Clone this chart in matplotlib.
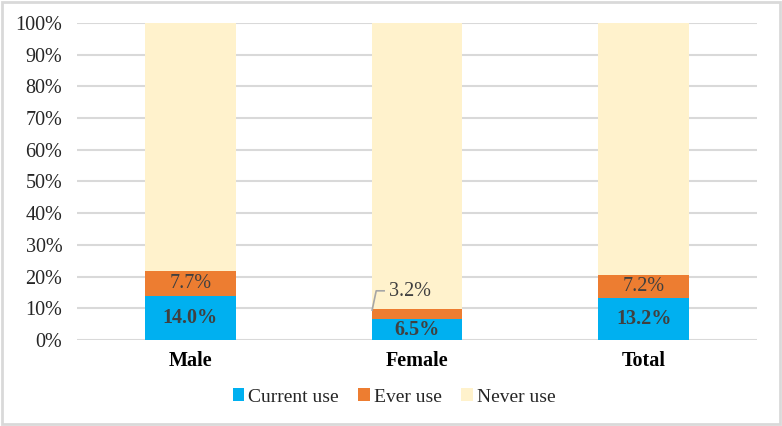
import numpy as np
import matplotlib.pyplot as plt
from matplotlib.patches import Rectangle

# data (percent)
groups = ['Male', 'Female', 'Total']
current_use = [14.0, 6.5, 13.2]
ever_use = [7.7, 3.2, 7.2]
never_use = [100 - c - e for c, e in zip(current_use, ever_use)]
series_names = ['Current use', 'Ever use', 'Never use']
colors = ['#00B0F0', '#ED7D31', '#FFF2CC']

plt.rcParams['font.family'] = ['Liberation Serif', 'DejaVu Serif']

fig = plt.figure(figsize=(7.82, 4.26), dpi=100)
ax = fig.add_axes([0.0985, 0.202, 0.8695, 0.744])

x = np.arange(len(groups))
w = 0.4
bottom = np.zeros(len(groups))
for vals, col, name in zip([current_use, ever_use, never_use], colors, series_names):
    ax.bar(x, vals, w, bottom=bottom, color=col, label=name, zorder=2)
    bottom += np.array(vals)

txt = '#404040'
fs = 14.5
# value labels
for i in range(len(groups)):
    ax.text(x[i], current_use[i] / 2, f'{current_use[i]:.1f}%', ha='center', va='center',
            fontsize=fs, fontweight='bold', color=txt, zorder=3)
    if ever_use[i] >= 5:
        ax.text(x[i], current_use[i] + ever_use[i] / 2, f'{ever_use[i]:.1f}%', ha='center',
                va='center', fontsize=fs, color=txt, zorder=3)
    else:
        # small slice: label placed above with a leader line
        top = current_use[i] + ever_use[i]
        ax.plot([x[i] - w / 2 + 0.002, x[i] - w / 2 + 0.02, x[i] - w / 2 + 0.055],
                [top - 0.3, top + 5.8, top + 5.8], color='#A6A6A6', lw=1.2, zorder=3)
        ax.text(x[i] - 0.03, top + 5.6, f'{ever_use[i]:.1f}%', ha='center', va='center',
                fontsize=fs, color=txt, zorder=3)

ax.set_xlim(-0.5, 2.5)
ax.set_ylim(0, 100)
ax.set_yticks(np.arange(0, 101, 10))
ax.set_yticklabels([f'{v}%' for v in range(0, 101, 10)], fontsize=fs, color='#262626')
ax.set_xticks(x)
ax.set_xticklabels(groups, fontsize=fs, fontweight='bold', color='black')
ax.tick_params(length=0, axis='y', pad=10.5)
ax.tick_params(length=0, axis='x', pad=8)
ax.yaxis.grid(True, color='#D9D9D9', lw=1.5, zorder=0)
ax.set_axisbelow(True)
for s in ax.spines.values():
    s.set_visible(False)

ax.legend(loc='center', bbox_to_anchor=(0.466, -0.18), ncol=3, frameon=False,
          fontsize=14, handlelength=0.6, handleheight=0.6, handletextpad=0.2,
          columnspacing=1.0, labelcolor='#262626')

# light grey frame around the whole figure
fig.patches.append(Rectangle((0.002, 0.004), 0.996, 0.992, transform=fig.transFigure,
                             fill=False, edgecolor='#D9D9D9', lw=2))

fig.savefig('out.png', dpi=100)
